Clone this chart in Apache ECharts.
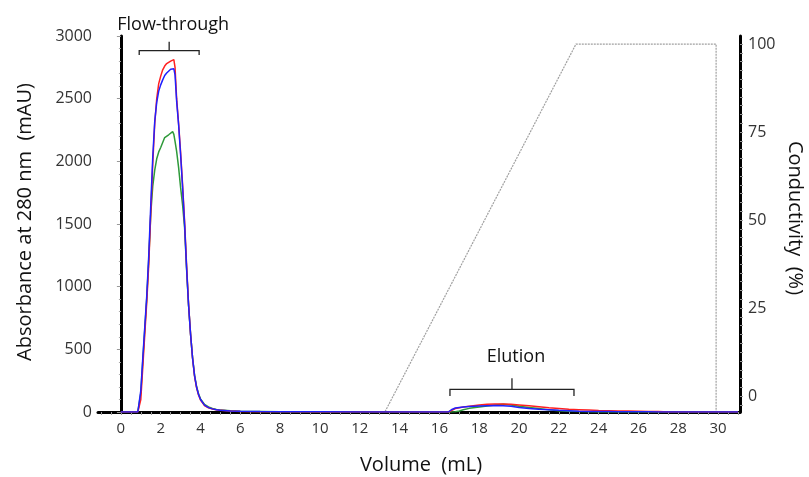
<!DOCTYPE html>
<html>
<head>
<meta charset="utf-8">
<script src="https://cdn.jsdelivr.net/npm/echarts@6/dist/echarts.min.js"></script>
<style>
html,body{margin:0;padding:0;background:#fff;}
#chart{width:809px;height:477px;}
</style>
</head>
<body>
<div id="chart"></div>
<script>
// ---- data ----
const volume = [0, 0.85, 0.92, 1.0, 1.1, 1.2, 1.3, 1.4, 1.5, 1.6, 1.7, 1.8, 1.9, 2.0, 2.1, 2.2, 2.3, 2.4, 2.5, 2.6, 2.66, 2.72, 2.8, 2.9, 3.0, 3.1, 3.2, 3.3, 3.4, 3.5, 3.6, 3.7, 3.8, 3.9, 4.0, 4.2, 4.4, 4.6, 4.8, 5.0, 5.5, 6.0, 7.0, 8.0, 10.0, 12.0, 14.0, 16.0, 16.45, 16.6, 16.8, 17.0, 17.2, 17.5, 18.0, 18.4, 18.8, 19.2, 19.6, 20.0, 20.5, 21.0, 21.5, 22.0, 22.5, 23.0, 23.5, 24.0, 24.5, 25.0, 25.5, 26.0, 26.5, 27.0, 27.5, 28.0, 29.0, 30.0, 31.0];
const absRed = [0, 0, 0, 100, 360, 620, 880, 1180, 1580, 1980, 2300, 2500, 2620, 2680, 2730, 2760, 2780, 2790, 2800, 2810, 2812, 2750, 2500, 2300, 2070, 1810, 1520, 1170, 860, 620, 430, 285, 195, 135, 95, 52, 33, 24, 17, 13, 7, 4, 2, 1, 0, 0, 0, 0, 0, 12, 28, 34, 40, 46, 55, 61, 63, 64, 61, 56, 49, 41, 33, 27, 21, 18, 15, 11, 10, 8, 7, 6, 4, 3, 0, 0, 0, 0, 0];
const absGreen = [0, 0, 10, 150, 410, 660, 910, 1220, 1580, 1800, 1930, 2020, 2075, 2110, 2150, 2190, 2200, 2212, 2222, 2237, 2215, 2160, 2080, 1950, 1790, 1650, 1470, 1140, 850, 620, 435, 295, 205, 145, 105, 60, 40, 28, 20, 15, 9, 5, 3, 1, 0, 0, 0, 0, 0, 0, 2, 8, 18, 29, 40, 48, 56, 61, 55, 45, 36, 27, 17, 10, 6, 3, 1, 0, 0, 0, 0, 0, 0, 0, 0, 0, 0, 0, 0];
const absBlue = [0, 0, 15, 170, 430, 680, 930, 1250, 1650, 2030, 2320, 2470, 2560, 2610, 2650, 2685, 2705, 2720, 2735, 2742, 2738, 2690, 2480, 2290, 2050, 1790, 1500, 1150, 850, 620, 430, 290, 200, 140, 100, 55, 35, 25, 18, 14, 8, 5, 3, 2, 1, 0, 0, 0, 0, 18, 32, 36, 40, 43, 48, 50, 51, 50, 46, 36, 28, 21, 17, 13, 10, 6, 4, 3, 3, 2, 2, 2, 1, 0, 0, 0, 0, 0, 0];
const condVolume = [13.27, 22.86, 29.9, 29.9];
const conductivity = [-4.4, 100, 100, -4.4];
const xTickLabels = [0, 2, 4, 6, 8, 10, 12, 14, 16, 18, 20, 22, 24, 26, 28, 30];
const condTickLabels = [0, 25, 50, 75, 100];
const flowBracket = {from: 0.92, to: 3.93, label: 'Flow-through'};
const elutionBracket = {from: 16.53, to: 22.76, label: 'Elution'};

function pairs(xs, ys) { return xs.map((x, i) => [x, ys[i]]); }

const FONT = '"Open Sans", "Noto Sans", sans-serif';
const xMinorTicks = [];
for (let v = -1; v <= 31; v += 0.5) xMinorTicks.push(v);
const condMinorTicks = [];
for (let v = -2.5; v <= 102.5; v += 2.5) condMinorTicks.push(v);

const chart = echarts.init(document.getElementById('chart'), null, {renderer: 'canvas'});
const option = {
  animation: false,
  backgroundColor: '#fff',
  grid: {left: 98, right: 69, top: 36, bottom: 65},
  xAxis: {
    type: 'value', min: -1.15, max: 31.1,
    axisLine: {lineStyle: {color: '#000', width: 3}},
    axisTick: {show: true, customValues: xMinorTicks, length: 3, lineStyle: {color: '#999', width: 1}},
    axisLabel: {customValues: xTickLabels, fontFamily: FONT, fontSize: 15, color: '#333', margin: 9},
    splitLine: {show: false}
  },
  yAxis: [
    {
      type: 'value', min: 0, max: 3000, interval: 500, position: 'left',
      axisLine: {show: true, lineStyle: {color: '#000', width: 3}},
      axisTick: {show: true, length: 4, lineStyle: {color: '#999'}},
      minorTick: {show: true, splitNumber: 5, length: 2, lineStyle: {color: '#aaa'}},
      axisLabel: {fontFamily: FONT, fontSize: 16, color: '#333', margin: 6, formatter: v => String(v)},
      splitLine: {show: false}
    },
    {
      type: 'value', min: -4.5, max: 102.3, position: 'right',
      axisLine: {show: true, lineStyle: {color: '#000', width: 3}},
      axisTick: {show: true, customValues: condMinorTicks, length: 3, lineStyle: {color: '#999'}},
      axisLabel: {customValues: condTickLabels, fontFamily: FONT, fontSize: 16, color: '#333', margin: 8, formatter: v => String(v)},
      splitLine: {show: false}
    }
  ],
  series: [
    {name: 'Conductivity', type: 'line', yAxisIndex: 1, data: pairs(condVolume, conductivity), showSymbol: false,
     lineStyle: {color: '#a0a0a0', width: 1.2, type: [2, 1]}, z: 1},
    {name: 'green', type: 'line', data: pairs(volume, absGreen), showSymbol: false, lineStyle: {color: '#2e9a3a', width: 1.5}, z: 2},
    {name: 'red', type: 'line', data: pairs(volume, absRed), showSymbol: false, lineStyle: {color: '#ff2020', width: 1.5}, z: 3},
    {name: 'blue', type: 'line', data: pairs(volume, absBlue), showSymbol: false, lineStyle: {color: '#2020ff', width: 1.5}, z: 4}
  ]
};
chart.setOption(option);

function bracket(b, yBar, yEnd, yTick, yText) {
  const p = (x, y) => chart.convertToPixel({xAxisIndex: 0, yAxisIndex: 0}, [x, y]);
  const a = p(b.from, yBar), c = p(b.to, yBar);
  const ae = p(b.from, yEnd), ce = p(b.to, yEnd);
  const mid = (a[0] + c[0]) / 2;
  const tk = p(0, yTick)[1];
  const tx = p(0, yText)[1];
  return [
    {type: 'polyline', shape: {points: [ae, a, c, ce]}, style: {stroke: '#222', lineWidth: 1.3, fill: null}, z: 10},
    {type: 'line', shape: {x1: mid, y1: a[1], x2: mid, y2: tk}, style: {stroke: '#222', lineWidth: 1.3}, z: 10},
    {type: 'text', x: mid + 4, y: tx, style: {text: b.label, font: '18px ' + FONT, fill: '#111', align: 'center', verticalAlign: 'middle'}, z: 10}
  ];
}

const graphics = [].concat(
  bracket(flowBracket, 2883, 2849, 2955, 3088),
  bracket(elutionBracket, 181, 128, 269, 439),
  [
    {type: 'text', x: 25, y: 222, rotation: Math.PI / 2, style: {text: 'Absorbance at 280 nm  (mAU)', font: '20px ' + FONT, fill: '#111', align: 'center', verticalAlign: 'middle'}},
    {type: 'text', x: 795, y: 218, rotation: -Math.PI / 2, style: {text: 'Conductivity  (%)', font: '20px ' + FONT, fill: '#111', align: 'center', verticalAlign: 'middle'}},
    {type: 'text', x: 421, y: 465, style: {text: 'Volume  (mL)', font: '20px ' + FONT, fill: '#111', align: 'center', verticalAlign: 'middle'}}
  ]
);
chart.setOption({graphic: graphics});
</script>
</body>
</html>
